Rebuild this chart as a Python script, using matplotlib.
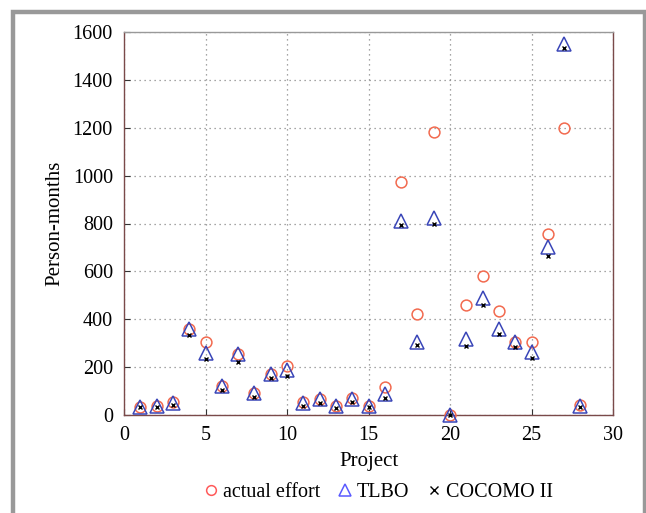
import matplotlib
matplotlib.use("Agg")
import matplotlib.pyplot as plt
from matplotlib.patches import Rectangle
from matplotlib.lines import Line2D

projects = list(range(1, 29))
actual_effort = [35, 38, 56, 361, 305, 121, 253, 90, 171, 204,
                 56, 65, 38, 69, 38, 118, 972, 424, 1183, 0,
                 461, 581, 435, 305, 305, 757, 1201, 42]
tlbo = [35, 38, 49, 361, 257, 121, 253, 90, 171, 187,
        49, 65, 38, 65, 38, 86, 812, 305, 823, 0,
        317, 489, 361, 305, 264, 701, 1549, 38]
cocomo = [33, 33, 42, 336, 232, 104, 222, 76, 153, 162,
          38, 51, 31, 56, 33, 72, 792, 294, 798, 0,
          288, 461, 337, 282, 240, 664, 1535, 33]
xticks = [0, 5, 10, 15, 20, 25, 30]
yticks = [0, 200, 400, 600, 800, 1000, 1200, 1400, 1600]

plt.rcParams['font.family'] = ['Liberation Serif', 'DejaVu Serif']

fig = plt.figure(figsize=(6.46, 5.13), dpi=100)
ax = fig.add_axes([124/646, 1-415/513, (613-124)/646, (415-32)/513])

red = '#f26a4f'
blue = '#3a46b8'
ax.plot(projects, actual_effort, linestyle='none', marker='o', ms=7.8,
        mfc='none', mec=red, mew=1.1, clip_on=False, zorder=3)
ax.plot(projects, tlbo, linestyle='none', marker='^', ms=9.5,
        mfc='none', mec=blue, mew=1.1, clip_on=False, zorder=4)
ax.plot(projects, cocomo, linestyle='none', marker='x', ms=3.5,
        color='black', mew=1.0, clip_on=False, zorder=5)

ax.set_xlim(0, 30)
ax.set_ylim(0, 1600)
ax.set_xticks(xticks)
ax.set_yticks(yticks)
ax.tick_params(direction='in', length=4, labelsize=14.5, colors='#333333',
               labelcolor='black')
ax.tick_params(axis='x', pad=8)
ax.tick_params(axis='y', pad=8)
ax.grid(True, linestyle=(0, (1, 3)), color='#888888', linewidth=0.9)
for side in ['left', 'bottom', 'right']:
    ax.spines[side].set_color('#7a4a4a')
    ax.spines[side].set_linewidth(1.0)
ax.spines['top'].set_color('#999999')
ax.spines['top'].set_linewidth(1.0)

ax.set_xlabel('Project', fontsize=15, labelpad=5)
ax.set_ylabel('Person-months', fontsize=15, labelpad=6)

handles = [
    Line2D([], [], linestyle='none', marker='o', ms=7, mfc='none', mec='#ff5a5a', mew=1.1),
    Line2D([], [], linestyle='none', marker='^', ms=8, mfc='none', mec='#5a5aff', mew=1.1),
    Line2D([], [], linestyle='none', marker='x', ms=6, color='black', mew=1.0),
]
fig.legend(handles, ['actual effort', 'TLBO', 'COCOMO II'], loc='center',
           bbox_to_anchor=(379/646, 1-492/513), ncol=3, frameon=False,
           fontsize=14.5, handlelength=0.6, handletextpad=0.3, columnspacing=0.9)

frame = Rectangle((13/646, -0.1), (645-13)/646, 0.1 + 1-12/513,
                  transform=fig.transFigure, fill=False, edgecolor='#999999',
                  linewidth=3.2, clip_on=False)
fig.patches.append(frame)

fig.savefig('out.png', dpi=100)
